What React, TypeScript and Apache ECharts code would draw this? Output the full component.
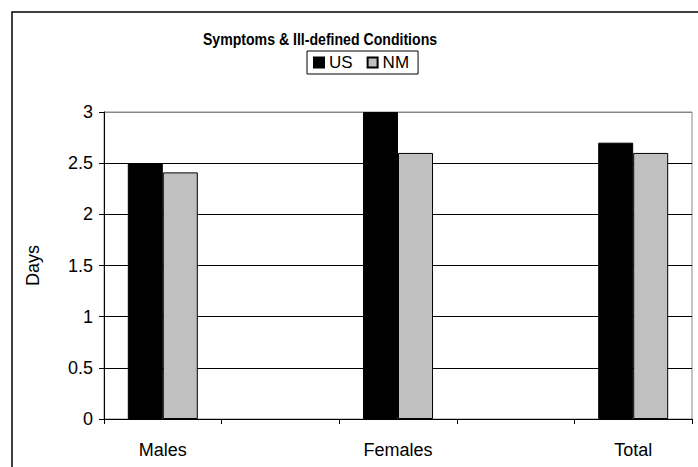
import React, { useEffect, useRef } from "react";
import * as echarts from "echarts";

const categories = ["Males", "", "Females", "", "Total"];
const usValues: (number | string)[] = [2.5, "-", 3.0, "-", 2.7];
const nmValues: (number | string)[] = [2.41, "-", 2.6, "-", 2.6];
const seriesNames = ["US", "NM"];
const titleText = "Symptoms & Ill-defined Conditions";
const yAxisName = "Days";

export default function App() {
  const ref = useRef<HTMLDivElement>(null);
  useEffect(() => {
    if (!ref.current) return;
    const chart = echarts.init(ref.current, null, { renderer: "svg" });
    const font = "'Liberation Sans', Arial, sans-serif";
    chart.setOption({
      animation: false,
      backgroundColor: "#fff",
      textStyle: { fontFamily: font },
      graphic: [
        {
          type: "rect",
          shape: { x: 12, y: 12, width: 720, height: 480 },
          style: { fill: "none", stroke: "#000", lineWidth: 1.5 },
          z: 0,
        },
        {
          type: "text",
          x: 320,
          y: 39,
          scaleX: 0.83,
          style: {
            text: titleText,
            font: `bold 17px ${font}`,
            fill: "#000",
            align: "center",
            verticalAlign: "middle",
          },
        },
      ],
      legend: {
        left: 307,
        top: 51,
        data: seriesNames,
        icon: "rect",
        itemWidth: 10,
        itemHeight: 10,
        itemGap: 14,
        padding: [3, 9, 3, 6],
        borderColor: "#000",
        borderWidth: 1,
        backgroundColor: "#fff",
        textStyle: { fontSize: 17, color: "#000", fontFamily: font },
      },
      grid: {
        left: 104,
        right: 6,
        top: 112,
        bottom: 48,
        show: true,
        borderColor: "#888",
        borderWidth: 1,
        backgroundColor: "transparent",
      },
      xAxis: {
        type: "category",
        data: categories,
        axisLine: { lineStyle: { color: "#000", width: 1 } },
        axisTick: { show: true, alignWithLabel: false, interval: 0, length: 5, lineStyle: { color: "#000" } },
        axisLabel: { interval: 0, fontSize: 18, color: "#000", margin: 22, fontFamily: font },
        splitLine: { show: false },
      },
      yAxis: {
        type: "value",
        min: 0,
        max: 3,
        interval: 0.5,
        name: yAxisName,
        nameLocation: "middle",
        nameGap: 62,
        nameRotate: 90,
        nameTextStyle: { fontSize: 18, color: "#000", fontFamily: font },
        axisLine: { show: true, lineStyle: { color: "#000", width: 1 } },
        axisTick: { show: true, length: 5, lineStyle: { color: "#000" } },
        axisLabel: { fontSize: 18, color: "#000", margin: 11, fontFamily: font },
        splitLine: {
          show: true,
          lineStyle: { color: ["#000", "#000", "#000", "#000", "#000", "#000", "#888"], width: 1 },
        },
      },
      series: [
        {
          name: seriesNames[0],
          type: "bar",
          data: usValues,
          barWidth: 35,
          barGap: "0%",
          itemStyle: { color: "#000", borderColor: "#000", borderWidth: 1 },
        },
        {
          name: seriesNames[1],
          type: "bar",
          data: nmValues,
          barWidth: 35,
          barGap: "0%",
          itemStyle: { color: "#c0c0c0", borderColor: "#000", borderWidth: 1 },
        },
      ],
    });
    return () => chart.dispose();
  }, []);
  return (
    <div
      ref={ref}
      style={{ position: "absolute", left: 0, top: 0, width: 698, height: 467 }}
    />
  );
}
